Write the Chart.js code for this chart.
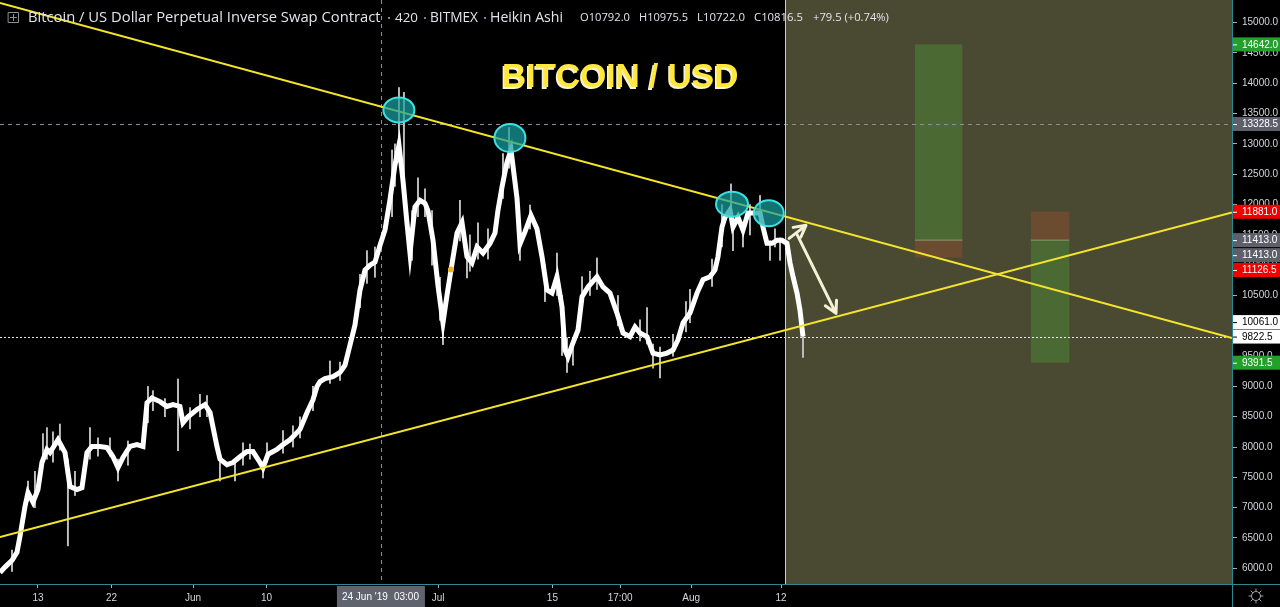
<!DOCTYPE html>
<html><head><meta charset="utf-8">
<script src="https://cdn.jsdelivr.net/npm/chart.js@4.4.1/dist/chart.umd.min.js"></script>
<style>html,body{margin:0;padding:0;background:#000;overflow:hidden}canvas{display:block}</style>
</head><body>
<canvas id="c" width="1280" height="607"></canvas>
<script>
// x values are days counted from 13 May 2019 (0 = 13 May 2019)
const priceDays = [-4.65,-4.04,-3.18,-2.57,-2.20,-1.59,-1.22,-0.61,0.00,0.49,1.10,1.47,2.45,3.31,3.92,4.78,5.39,6.00,6.61,7.59,8.45,9.19,9.80,10.41,11.27,12.12,12.86,13.35,13.96,14.94,15.80,16.53,17.39,17.76,18.37,19.47,20.45,21.07,21.92,22.29,23.15,23.88,24.74,25.60,26.33,27.19,27.56,28.17,29.27,30.01,30.86,32.09,32.95,33.68,34.17,34.54,35.15,36.13,36.99,37.60,38.21,38.82,39.44,40.05,40.66,41.27,41.89,42.50,43.11,43.72,44.21,44.70,45.19,45.56,46.17,46.79,47.40,47.76,48.38,48.99,49.60,50.09,50.58,51.32,51.93,52.54,53.15,53.77,54.50,55.36,55.97,56.34,56.83,57.44,57.93,58.30,58.67,59.03,59.64,60.38,61.11,61.73,62.34,62.95,63.56,64.18,64.54,64.91,65.52,66.14,66.63,67.36,68.46,69.20,70.05,70.91,71.65,72.50,73.12,73.73,74.59,75.32,76.18,77.04,77.77,78.38,79.00,79.85,80.71,81.45,82.30,82.91,83.28,83.77,84.14,84.75,85.12,85.73,86.34,86.96,87.57,88.43,88.79,89.28,89.90,90.51,91.12,91.73,92.10,92.47,92.96,93.32,93.69];
const priceValues = [5930,6020,6130,6265,6530,7020,7250,7090,7300,7745,7960,7910,8120,7910,7350,7300,7330,7910,8010,8010,7990,7840,7660,7830,8010,8040,8010,8730,8810,8750,8670,8700,8670,8400,8500,8620,8700,8570,8010,7800,7710,7745,7840,7925,7925,7745,7660,7880,7960,8040,8120,8290,8570,8780,9000,9080,9130,9160,9230,9350,9680,10010,10590,10920,11000,11050,11330,11580,12080,12650,12980,12400,11700,11200,11960,12070,12020,11900,11410,10660,10050,10500,10920,11530,11700,11140,11040,11300,11200,11360,11530,11910,12290,12700,12900,12500,12100,11350,11550,11820,11600,11140,10590,10540,10810,10310,9600,9490,9720,9930,10480,10640,10810,10640,10540,10210,9880,9820,9980,9880,9820,9550,9520,9550,9600,9770,10050,10210,10540,10760,10810,10920,11140,11630,11790,11910,11630,11790,11580,11860,11860,11860,11630,11360,11360,11410,11410,11360,11040,10810,10540,10260,9822.5];

const wickDays  = [-3.18,-1.22,-0.37,0.61,1.10,1.84,2.69,3.67,4.53,6.37,7.35,8.82,9.80,11.02,13.47,14.08,15.55,17.15,18.62,19.84,20.70,22.29,24.13,25.11,25.96,27.56,28.05,30.01,31.23,32.09,33.68,35.76,36.99,39.44,40.29,41.27,43.36,43.72,44.21,44.82,45.81,46.54,47.40,48.26,49.23,49.60,51.68,52.54,52.90,53.89,55.11,56.95,57.69,59.03,60.26,62.09,63.56,64.18,64.79,65.52,66.63,67.60,68.46,71.03,73.73,74.59,75.32,76.18,77.77,79.36,79.85,82.55,83.77,84.87,85.12,86.34,87.20,88.43,89.65,90.26,90.88,93.69];
const wickLows  = [5950,7100,7000,7700,7800,7750,7950,6370,7200,7800,7850,7850,7440,7700,8400,8600,8500,7940,8300,8500,8500,7440,7440,7700,7800,7490,7750,7900,8000,8150,8600,9050,9100,10300,10700,10800,11800,12300,12700,12200,11080,11800,11800,11000,10090,9690,11400,10790,10900,11100,11100,12100,12600,11080,11600,10400,10500,9510,9230,9350,10300,10500,10600,10000,9750,9700,9300,9140,9500,9900,10050,10650,11300,11700,11240,11300,11500,11700,11080,11300,11080,9480];
const wickHighs = [6300,7440,7600,8220,8320,8250,8380,7800,7600,8320,8150,8150,7800,8100,9000,8930,8800,9120,8650,8870,8850,7900,7800,8070,8050,7750,8070,8270,8350,8500,9000,9420,9400,10850,11240,11300,12900,13000,13930,13850,11900,12440,12260,11900,10800,10300,12070,11300,11500,11700,11600,12840,13270,11600,11990,11000,11200,10500,9800,9800,10810,10900,11120,10500,10100,10300,9700,9650,9860,10400,10600,11100,12000,12340,11700,11700,12000,12150,11400,11600,11450,9870];

const xTickDays   = [0, 9, 19, 28, 49, 63, 71.3, 80, 91];
const xTickLabels = ['13', '22', 'Jun', '10', 'Jul', '15', '17:00', 'Aug', '12'];
const yTickValues = [6000,6500,7000,7500,8000,8500,9000,9500,10000,10500,11000,11500,12000,12500,13000,13500,14000,14500,15000];

const upperTrendDays = [-4.65, 146.23];
const upperTrendValues = [15325, 9797];
const lowerTrendDays = [-4.65, 146.23];
const lowerTrendValues = [6514, 11870];

const touchDays = [44.2, 57.8, 85.0, 89.5];
const touchValues = [13560, 13098, 12006, 11857];

const boxStartDays = [107.4, 121.6];
const boxEndDays = [113.2, 126.3];
const boxEntry = [11413, 11413];
const boxTarget = [14642, 9391.5];
const boxStop = [11126.5, 11881];

const arrowFromDays = [92.0, 92.96];
const arrowFromValues = [11443, 11509];
const arrowToDays = [94.06, 97.73];
const arrowToValues = [11657, 10206];

const axisLabelValues = [14642, 13328.5, 11881, 11413, 11413, 11126.5, 10061, 9822.5, 9391.5];
const axisLabelKinds = ['green','grey','red','grey','grey','red','white','white','green'];

const crosshairDay = 42;           // 24 Jun '19 03:00
const crosshairValue = 13328.5;
const lastPrice = 9822.5;
const projectionStartDay = 91.5;
const markerDay = 50.58, markerValue = 10930;

const headerTitle = 'Bitcoin / US Dollar Perpetual Inverse Swap Contract';
const headerParts = ['420', 'BITMEX', 'Heikin Ashi'];
const ohlcParts = ['O10792.0', 'H10975.5', 'L10722.0', 'C10816.5', '+79.5 (+0.74%)'];
const bigTitle = 'BITCOIN / USD';
const crosshairLabel = ["24 Jun '19", '03:00'];

// ---- drawing helpers ----
const TEAL = '#2a8a93';
function fitText(ctx, text, x, y, width, weight, family, color) {
  ctx.font = `${weight} 20px ${family}`;
  const w = ctx.measureText(text).width;
  const size = 20 * width / w;
  ctx.font = `${weight} ${size}px ${family}`;
  ctx.fillStyle = color;
  ctx.textAlign = 'left';
  ctx.textBaseline = 'middle';
  ctx.fillText(text, x, y);
}
function arrow(ctx, x1, y1, x2, y2) {
  const ang = Math.atan2(y2 - y1, x2 - x1), L = 13, s = 0.5;
  ctx.beginPath();
  ctx.moveTo(x1, y1); ctx.lineTo(x2, y2);
  ctx.moveTo(x2 - L * Math.cos(ang - s), y2 - L * Math.sin(ang - s));
  ctx.lineTo(x2, y2);
  ctx.lineTo(x2 - L * Math.cos(ang + s), y2 - L * Math.sin(ang + s));
  ctx.stroke();
}

const decor = {
  id: 'decor',
  beforeDraw(chart) {
    const { ctx, chartArea: a, scales: { x, y } } = chart;
    ctx.save();
    ctx.fillStyle = '#000';
    ctx.fillRect(0, 0, chart.width, chart.height);
    const px = x.getPixelForValue(projectionStartDay);
    ctx.fillStyle = '#4a4a33';
    ctx.fillRect(px, a.top, a.right - px, a.bottom - a.top);
    for (let i = 0; i < boxStartDays.length; i++) {
      const x1 = x.getPixelForValue(boxStartDays[i]), x2 = x.getPixelForValue(boxEndDays[i]);
      const ye = y.getPixelForValue(boxEntry[i]), yt = y.getPixelForValue(boxTarget[i]), ys = y.getPixelForValue(boxStop[i]);
      ctx.fillStyle = '#4b6a33';
      ctx.fillRect(x1, Math.min(ye, yt), x2 - x1, Math.abs(yt - ye));
      ctx.fillStyle = '#6c4c31';
      ctx.fillRect(x1, Math.min(ye, ys), x2 - x1, Math.abs(ys - ye));
      ctx.fillStyle = '#8a9a70';
      ctx.fillRect(x1, ye - 0.5, x2 - x1, 1);
    }
    ctx.strokeStyle = '#8a8f99';
    ctx.lineWidth = 1;
    ctx.setLineDash([4, 4]);
    const cx = Math.round(x.getPixelForValue(crosshairDay)) + 0.5;
    ctx.beginPath(); ctx.moveTo(cx, a.top); ctx.lineTo(cx, a.bottom); ctx.stroke();
    const cy = Math.round(y.getPixelForValue(crosshairValue)) + 0.5;
    ctx.beginPath(); ctx.moveTo(a.left, cy); ctx.lineTo(a.right, cy); ctx.stroke();
    ctx.strokeStyle = '#e8e8e8';
    ctx.setLineDash([2, 2]);
    const ly = Math.round(y.getPixelForValue(lastPrice)) + 0.5;
    ctx.beginPath(); ctx.moveTo(a.left, ly); ctx.lineTo(a.right, ly); ctx.stroke();
    ctx.setLineDash([]);
    ctx.strokeStyle = '#e0dc4c';
    const vx = Math.round(px) + 0.5;
    ctx.beginPath(); ctx.moveTo(vx, a.top); ctx.lineTo(vx, a.bottom); ctx.stroke();
    ctx.restore();
  },
  afterDraw(chart) {
    const { ctx, chartArea: a, scales: { x, y } } = chart;
    ctx.save();
    const radii = [[15.5, 12.5], [15.5, 14], [16, 12.5], [15, 13]];
    touchDays.forEach((d, i) => {
      const px = x.getPixelForValue(d), py = y.getPixelForValue(touchValues[i]);
      ctx.beginPath();
      ctx.ellipse(px, py, radii[i][0], radii[i][1], 0, 0, Math.PI * 2);
      ctx.fillStyle = 'rgba(24,160,160,0.72)';
      ctx.fill();
      ctx.lineWidth = 2;
      ctx.strokeStyle = '#3ee0e0';
      ctx.stroke();
    });
    ctx.strokeStyle = '#f4f1d6';
    ctx.lineWidth = 3;
    ctx.lineCap = 'round';
    ctx.lineJoin = 'round';
    arrowFromDays.forEach((d, i) => {
      arrow(ctx, x.getPixelForValue(d), y.getPixelForValue(arrowFromValues[i]),
        x.getPixelForValue(arrowToDays[i]), y.getPixelForValue(arrowToValues[i]));
    });
    ctx.beginPath();
    ctx.arc(x.getPixelForValue(markerDay), y.getPixelForValue(markerValue), 3, 0, Math.PI * 2);
    ctx.fillStyle = '#f2b51a';
    ctx.fill();
    ctx.font = 'bold 33.5px "Liberation Sans", Arial, sans-serif';
    ctx.textAlign = 'left';
    ctx.textBaseline = 'alphabetic';
    ctx.fillStyle = '#f7f3d8';
    ctx.fillText(bigTitle, 500.5, 88.5);
    ctx.fillStyle = '#ffe83b';
    ctx.fillText(bigTitle, 502, 87);
    ctx.fillStyle = TEAL;
    ctx.fillRect(0, a.bottom, chart.width, 1);
    ctx.fillRect(a.right, 0, 1, chart.height);
    const styles = { green: ['#22a02a', '#fff'], grey: ['#5d606b', '#fff'], red: ['#f20000', '#fff'], white: ['#ffffff', '#000'] };
    const nudge = [0, 0, 0, 0, 15, 12.5, 0, 0, 0];
    ctx.font = '10px "Liberation Sans", Arial, sans-serif';
    ctx.textBaseline = 'middle';
    axisLabelValues.forEach((v, i) => {
      const py = y.getPixelForValue(v) + nudge[i];
      const st = styles[axisLabelKinds[i]];
      ctx.fillStyle = st[0];
      ctx.fillRect(a.right + 1, py - 7, chart.width - a.right - 1, 14);
      ctx.fillStyle = st[1];
      ctx.fillText(v.toFixed(1), a.right + 10, py + 0.5);
      ctx.fillRect(a.right + 1, py, 4, 1);
    });
    const cx = x.getPixelForValue(crosshairDay);
    ctx.fillStyle = '#5f636e';
    ctx.fillRect(cx - 44, a.bottom + 2, 88, 21);
    ctx.fillStyle = '#ffffff';
    ctx.font = '10px "Liberation Sans", Arial, sans-serif';
    ctx.textAlign = 'left';
    ctx.fillText(crosshairLabel[0], cx - 39, a.bottom + 13);
    ctx.fillText(crosshairLabel[1], cx + 13, a.bottom + 13);
    const gx = 1256, gy = 596;
    ctx.strokeStyle = '#9aa0a8'; ctx.lineWidth = 1;
    ctx.beginPath(); ctx.arc(gx, gy, 4.5, 0, Math.PI * 2); ctx.stroke();
    for (let k = 0; k < 8; k++) {
      const an = k * Math.PI / 4;
      ctx.beginPath();
      ctx.moveTo(gx + 4.5 * Math.cos(an), gy + 4.5 * Math.sin(an));
      ctx.lineTo(gx + 7 * Math.cos(an), gy + 7 * Math.sin(an));
      ctx.stroke();
    }
    ctx.strokeStyle = '#8c8f96'; ctx.lineWidth = 1;
    ctx.strokeRect(8.5, 12.5, 10, 10);
    ctx.beginPath(); ctx.moveTo(13.5, 14.5); ctx.lineTo(13.5, 20.5); ctx.moveTo(10.5, 17.5); ctx.lineTo(16.5, 17.5); ctx.stroke();
    const fam = '"Open Sans", "Liberation Sans", sans-serif';
    const hy = 18;
    fitText(ctx, headerTitle, 28, hy, 353, 'normal', fam, '#e2e4ea');
    const hx = [[395, 23], [430, 48], [490, 73]];
    headerParts.forEach((t, i) => fitText(ctx, t, hx[i][0], hy, hx[i][1], 'normal', fam, '#e2e4ea'));
    ctx.fillStyle = '#7d808a';
    [388, 424, 484].forEach(dx => ctx.fillRect(dx, hy - 1, 2, 2));
    const ox = [[580, 50], [639, 49], [697, 48], [754, 49], [813, 76]];
    ohlcParts.forEach((t, i) => fitText(ctx, t, ox[i][0], hy, ox[i][1], 'normal', fam, '#e2e4ea'));
    ctx.restore();
  }
};

const tickFont = { family: '"Liberation Sans", Arial, sans-serif', size: 10 };

new Chart(document.getElementById('c'), {
  type: 'line',
  data: {
    datasets: [
      {
        type: 'line', order: 0,
        data: upperTrendDays.map((d, i) => ({ x: d, y: upperTrendValues[i] })),
        borderColor: '#f4e52c', borderWidth: 2, pointRadius: 0
      },
      {
        type: 'line', order: 0,
        data: lowerTrendDays.map((d, i) => ({ x: d, y: lowerTrendValues[i] })),
        borderColor: '#f4e52c', borderWidth: 2, pointRadius: 0
      },
      {
        type: 'line', order: 1,
        data: priceDays.map((d, i) => ({ x: d, y: priceValues[i] })),
        borderColor: '#ffffff', borderWidth: 5, pointRadius: 0, tension: 0,
        borderJoinStyle: 'miter', borderCapStyle: 'butt'
      },
      {
        type: 'bar', order: 2, grouped: false,
        data: wickDays.map((d, i) => ({ x: d, y: [wickLows[i], wickHighs[i]] })),
        backgroundColor: '#bdbdbd', barThickness: 1.3, borderWidth: 0
      }
    ]
  },
  options: {
    responsive: false,
    animation: false,
    events: [],
    layout: { padding: 0 },
    plugins: { legend: { display: false }, tooltip: { enabled: false } },
    scales: {
      x: {
        type: 'linear', min: -4.65, max: 146.23, offset: false,
        afterBuildTicks: s => { s.ticks = xTickDays.map(v => ({ value: v })); },
        afterFit: s => { s.height = 23; s.paddingLeft = 0; s.paddingRight = 0; },
        ticks: { callback: (v, i) => xTickLabels[i], color: '#d3d5db', font: tickFont, padding: 4, autoSkip: false, maxRotation: 0 },
        grid: { drawOnChartArea: false, drawTicks: true, tickLength: 4, color: '#a9adb5', offset: false },
        border: { display: false }
      },
      y: {
        type: 'linear', position: 'right', min: 5741, max: 15374,
        afterBuildTicks: s => { s.ticks = yTickValues.map(v => ({ value: v })); },
        afterFit: s => { s.width = 48; s.paddingTop = 0; s.paddingBottom = 0; },
        ticks: { callback: v => v.toFixed(1), color: '#d3d5db', font: tickFont, padding: 5, autoSkip: false },
        grid: { drawOnChartArea: false, drawTicks: true, tickLength: 5, color: '#a9adb5' },
        border: { display: false }
      }
    }
  },
  plugins: [decor]
});
</script>
</body></html>
